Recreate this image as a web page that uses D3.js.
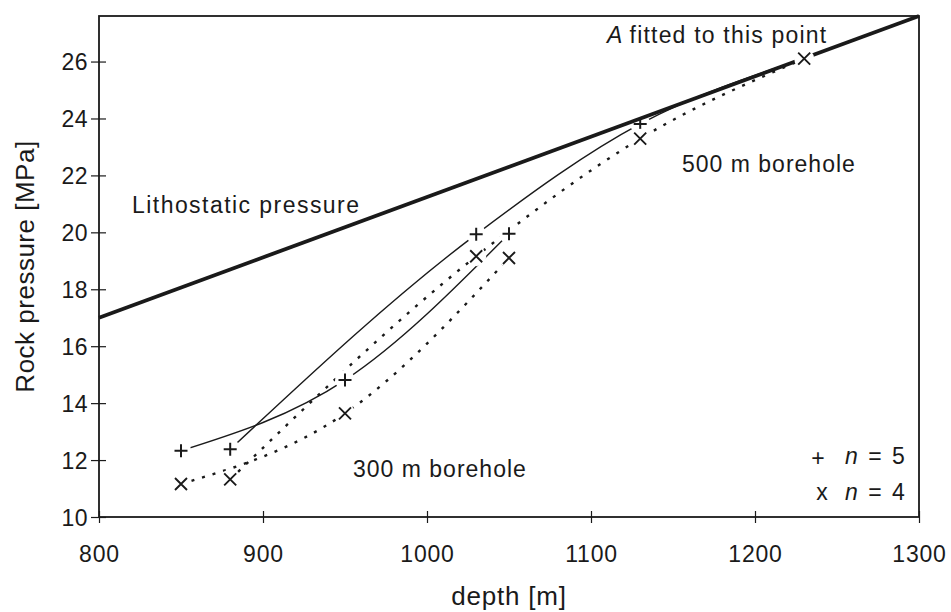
<!DOCTYPE html>
<html><head><meta charset="utf-8">
<script src="https://cdn.jsdelivr.net/npm/d3@7"></script>
<style>
body{margin:0;background:#fff}
text{font-family:"Liberation Sans",Arial,Helvetica,sans-serif;fill:#1a1a1a}
</style>
</head><body>
<svg id="c" width="951" height="612"></svg>
<script>
// ---- data ----
const xTicks = [800, 900, 1000, 1100, 1200, 1300];
const yTicks = [10, 12, 14, 16, 18, 20, 22, 24, 26];
const depth300 = [850, 950, 1050];
const depth500 = [880, 1030, 1130, 1230];
const p5_300 = [12.33, 14.81, 19.95];   // + n = 5, 300 m borehole
const p4_300 = [11.16, 13.64, 19.10];   // x n = 4, 300 m borehole
const p5_500 = [12.38, 19.93, 23.81, 26.1]; // + n = 5, 500 m borehole
const p4_500 = [11.32, 19.16, 23.29, 26.1]; // x n = 4, 500 m borehole
const lithoDepth = [800, 1300];
const lithoPressure = [17.0, 27.6];

// ---- layout ----
const L = 99, R = 919, T = 16, B = 517;
const svg = d3.select("#c");
const x = d3.scaleLinear().domain([800, 1300]).range([L, R]);
const y = d3.scaleLinear().domain([10, 27.6]).range([B, T]);
const ink = "#1a1a1a";
const FF = '"Liberation Sans",Arial,sans-serif';

const zip = (a, b) => a.map((d, i) => [d, b[i]]);
const line = d3.line().x(d => x(d[0])).y(d => y(d[1])).curve(d3.curveMonotoneX);

// frame
svg.append("rect").attr("x", L).attr("y", T).attr("width", R - L).attr("height", B - T)
  .attr("fill", "none").attr("stroke", ink).attr("stroke-width", 1.8);

// axes
const xa = svg.append("g").attr("transform", `translate(0,${B})`)
  .call(d3.axisBottom(x).tickValues(xTicks).tickSize(6).tickFormat(d3.format("d")));
xa.select(".domain").remove();
xa.selectAll(".tick line").attr("y1", -6).attr("y2", 6).attr("stroke", ink).attr("stroke-width", 1.2);
xa.selectAll(".tick text").attr("y", 45).attr("dy", null)
  .style("font-size", "23px").style("letter-spacing", "0.8px").attr("fill", ink)
  .style("font-family", FF);

const ya = svg.append("g").attr("transform", `translate(${L},0)`)
  .call(d3.axisLeft(y).tickValues(yTicks).tickSize(7));
ya.select(".domain").remove();
ya.selectAll(".tick line").attr("x1", -8).attr("x2", 7).attr("stroke", ink).attr("stroke-width", 1.2);
ya.selectAll(".tick text").attr("x", -11).attr("dy", "0.36em")
  .style("font-size", "23px").style("letter-spacing", "0.5px").attr("fill", ink)
  .style("font-family", FF);

// axis titles
svg.append("text").attr("x", (L + R) / 2).attr("y", 605).attr("text-anchor", "middle")
  .style("font-size", "26px").style("letter-spacing", "0.8px").text("depth [m]");
svg.append("text").attr("transform", `translate(34,${(T + B) / 2}) rotate(-90)`)
  .attr("text-anchor", "middle").style("font-size", "26px").style("letter-spacing", "0.5px")
  .text("Rock pressure [MPa]");

// curves
const curves = [
  {d: zip(depth300, p5_300), dash: null},
  {d: zip(depth500, p5_500), dash: null},
  {d: zip(depth300, p4_300), dash: "3 8"},
  {d: zip(depth500, p4_500), dash: "3 8"}
];
svg.append("g").selectAll("path").data(curves).join("path")
  .attr("d", c => line(c.d)).attr("fill", "none").attr("stroke", ink)
  .attr("stroke-width", c => c.dash ? 2.4 : 1.4)
  .attr("stroke-dasharray", c => c.dash);

// + markers (with white knock-out)
const plusPts = zip(depth300, p5_300).concat(zip(depth500, p5_500));
const gp = svg.append("g").selectAll("g").data(plusPts).join("g")
  .attr("transform", d => `translate(${x(d[0])},${y(d[1])})`);
gp.append("circle").attr("r", 10).attr("fill", "#fff");
gp.append("path").attr("d", "M-6.5,0H6.5M0,-6.5V6.5").attr("stroke", ink).attr("stroke-width", 2);

// lithostatic pressure line
svg.append("path").attr("d", d3.line().x(d => x(d[0])).y(d => y(d[1]))(zip(lithoDepth, lithoPressure)))
  .attr("stroke", ink).attr("stroke-width", 3.8).attr("fill", "none");

// x markers (with white knock-out)
const crossPts = zip(depth300, p4_300).concat(zip(depth500, p4_500));
const gx = svg.append("g").selectAll("g").data(crossPts).join("g")
  .attr("transform", d => `translate(${x(d[0])},${y(d[1])})`);
gx.append("circle").attr("r", 10).attr("fill", "#fff");
gx.append("path").attr("d", "M-6,-6L6,6M-6,6L6,-6").attr("stroke", ink).attr("stroke-width", 1.9);

// annotations
const ann = (tx, ty, s, ls) => svg.append("text").attr("x", tx).attr("y", ty)
  .style("font-size", "23px").style("letter-spacing", ls + "px").text(s);
ann(132, 213, "Lithostatic pressure", 1.45);
ann(682, 172, "500 m borehole", 1.0);
ann(353, 477, "300 m borehole", 1.0);
const at = svg.append("text").attr("x", 607).attr("y", 43).style("font-size", "23px").style("letter-spacing", "1.2px");
at.append("tspan").style("font-style", "italic").text("A");
at.append("tspan").attr("dx", 6).text("fitted to this point");

// legend
svg.append("text").attr("x", 818).attr("y", 466).attr("text-anchor", "middle").style("font-size", "23px").text("+");
svg.append("text").attr("x", 822).attr("y", 500).attr("text-anchor", "middle").style("font-size", "23px").text("x");
[["5", 464], ["4", 500]].forEach(([v, yy]) => {
  const t = svg.append("text").attr("x", 845).attr("y", yy).style("font-size", "23px").style("letter-spacing", "2px");
  t.append("tspan").style("font-style", "italic").text("n");
  t.append("tspan").text(" = " + v);
});
</script>
</body></html>
